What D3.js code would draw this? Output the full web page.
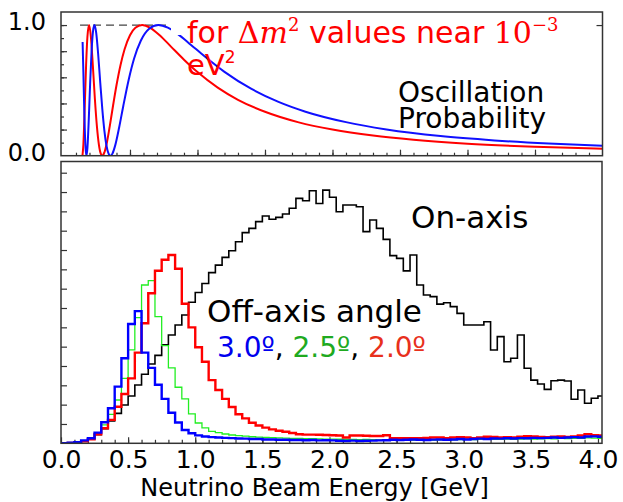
<!DOCTYPE html>
<html><head><meta charset="utf-8">
<script src="https://cdn.jsdelivr.net/npm/d3@7"></script>
<style>
html,body{margin:0;padding:0;background:#fff;}
svg{display:block;font-family:"DejaVu Sans",sans-serif;}
</style></head>
<body><svg id="c" width="623" height="502"></svg>
<script>
// ---------- DATA ----------
const binWidth = 0.05; // GeV
// flux histograms (arbitrary units, 1 unit = one y tick)
const onAxis = [0.0,0.02,0.05,0.12,0.25,0.45,0.75,1.15,1.55,1.98,2.45,3.02,3.57,4.1,4.55,5.1,5.6,6.12,
  6.64,7.3,7.8,8.27,8.83,9.22,9.62,9.96,10.43,10.9,11.12,11.47,11.76,11.59,11.69,11.86,12.16,12.67,12.55,
  13.07,12.41,13.1,12.73,11.98,12.33,12.33,12.24,10.95,11.55,11.12,10.55,9.71,9.57,8.92,9.74,8.19,7.67,7.59,
  7.2,7.27,7.07,6.72,6.12,6.12,6.12,6.29,4.83,5.52,4.22,4.4,5.6,3.88,3.27,3.07,2.79,3.24,3.27,3.22,2.28,2.76,
  2.07,2.33,2.45];
const off25 = [0.0,0.03,0.06,0.12,0.2,0.5,0.95,1.5,2.24,3.36,4.83,6.5,8.19,8.42,6.55,5.05,3.9,2.9,2.3,1.52,
  1.05,0.8,0.62,0.55,0.48,0.43,0.4,0.37,0.34,0.32,0.3,
  0.29,0.28,0.27,0.26,0.25,0.24,0.24,0.23,0.22,0.22,0.21,0.2,0.2,0.19,0.2,0.19,0.18,0.19,0.18,0.17,
  0.18,0.17,0.17,0.18,0.17,0.18,0.19,0.18,0.19,0.2,0.19,0.2,0.21,0.2,0.21,0.22,0.21,0.22,0.23,0.22,
  0.23,0.24,0.23,0.25,0.24,0.26,0.25,0.28,0.27,0.26];
const off20 = [0.0,0.02,0.05,0.1,0.21,0.47,0.78,1.21,1.89,2.55,3.36,4.69,6.21,7.76,8.93,9.5,9.74,9.03,7.22,
  6.0,4.97,4.22,3.27,2.76,2.3,1.88,1.5,1.29,1.06,0.92,0.81,0.72,0.65,0.6,0.53,0.47,
  0.45,0.45,0.44,0.43,0.42,0.4,0.3,0.4,0.4,0.39,0.38,0.38,0.42,
  0.27,0.26,0.27,0.26,0.27,0.28,0.3,0.3,0.27,0.3,0.32,0.3,0.26,0.3,0.34,0.33,0.3,0.32,0.3,0.34,0.37,0.35,
  0.33,0.32,0.34,0.35,0.33,0.36,0.4,0.47,0.42,0.4];
const off30 = [0.0,0.03,0.06,0.15,0.26,0.55,1.09,1.81,2.93,4.4,6.17,6.84,4.69,3.9,3.03,2.3,1.58,1.08,0.69,
  0.52,0.41,0.35,
  0.32,0.3,0.28,0.27,0.25,0.24,0.22,0.22,0.2,0.2,0.18,0.18,0.17,0.17,0.16,0.17,0.15,0.16,0.15,
  0.13,0.12,0.14,0.12,0.13,0.14,0.15,0.16,0.18,0.17,0.18,0.2,0.18,0.17,0.19,0.2,0.18,0.2,0.22,0.2,0.22,
  0.24,0.22,0.25,0.24,0.26,0.25,0.27,0.26,0.28,0.27,0.28,0.3,0.28,0.3,0.32,0.3,0.35,0.36,0.34];
// oscillation probability curves: [energy GeV, probability]
const probRedE = [0.148,0.155,0.165,0.175,0.185,0.197,0.21,0.225,0.24,0.255,0.27,0.285,0.295,0.31,0.33,0.35,
  0.375,0.4,0.43,0.46,0.5,0.54,0.59,0.65,0.72,0.8,0.9,1.0,1.15,1.3,1.5,1.75,2.0,2.3,2.6,3.0,3.5,4.0];
const probRedP = [0.0,0.09,0.382,0.696,0.914,1.0,0.914,0.688,0.434,0.224,0.082,0.012,0.0,0.023,0.107,0.225,
  0.386,0.539,0.695,0.815,0.922,0.979,1.0,0.979,0.922,0.839,0.735,0.64,0.521,0.428,0.336,0.255,0.2,0.154,
  0.122,0.092,0.0685,0.0527];
const probBlueE = [0.149,0.155,0.16,0.165,0.17,0.1775,0.185,0.195,0.205,0.215,0.2265,0.237,0.25,0.265,0.28,
  0.295,0.31,0.325,0.34,0.355,0.37,0.39,0.42,0.45,0.49,0.53,0.58,0.64,0.71,0.78,0.86,0.95,1.05,1.2,1.4,
  1.6,1.8,2.1,2.4,2.8,3.2,3.6,4.0];
const probBlueP = [0.87,0.626,0.403,0.21,0.075,0.0,0.063,0.286,0.558,0.79,0.956,1.0,0.939,0.767,0.556,
  0.356,0.194,0.082,0.019,0.0,0.016,0.077,0.218,0.379,0.58,0.742,0.88,0.97,1.0,0.98,0.927,0.85,0.763,
  0.642,0.511,0.412,0.337,0.257,0.201,0.15,0.117,0.093,0.0757];
const xTickLabels = ["0.0","0.5","1.0","1.5","2.0","2.5","3.0","3.5","4.0"];
const xTickValues = [0,0.5,1,1.5,2,2.5,3,3.5,4];

// ---------- LAYOUT ----------
const svg = d3.select("#c");
const FONT = "DejaVu Sans";
const BORDER = "#333";

// top panel
const T = {l:61, r:602.5, t:12, b:155.7};
const xT = d3.scaleLinear().domain([-0.011,4]).range([T.l, T.r]);
const yT = d3.scaleLinear().domain([0,1.1]).range([T.b, T.t]);
// bottom panel
const B = {l:61, r:602, t:161.5, b:443.3};
const xB = d3.scaleLinear().domain([0,4.03]).range([B.l, B.r]);
const yB = d3.scaleLinear().domain([0,14.58]).range([B.b, B.t]);

svg.append("defs").append("clipPath").attr("id","clipB")
  .append("rect").attr("x",B.l).attr("y",B.t).attr("width",B.r-B.l).attr("height",B.b-B.t);
svg.select("defs").append("clipPath").attr("id","clipT")
  .append("rect").attr("x",T.l).attr("y",T.t).attr("width",T.r-T.l).attr("height",T.b-T.t);

function styleAxis(g){
  g.select(".domain").remove();
  g.selectAll(".tick line").attr("stroke",BORDER).attr("stroke-width",1.2);
  g.selectAll("text").attr("font-family",FONT).attr("fill","#000");
}

// ---------- TOP PANEL ----------
const gT = svg.append("g");
gT.append("g").attr("transform",`translate(${T.l},0)`)
  .call(d3.axisLeft(yT).tickValues(d3.range(0.1,1.01,0.1)).tickSize(-3).tickFormat(""))
  .call(styleAxis);
gT.append("g").attr("transform",`translate(${T.l},0)`)
  .call(d3.axisLeft(yT).tickValues([0.2,0.4,0.6,0.8,1.0]).tickSize(-6).tickFormat(""))
  .call(styleAxis);
gT.append("g").attr("transform",`translate(${T.r},0)`)
  .call(d3.axisRight(yT).tickValues([1.0]).tickSize(-6).tickFormat(""))
  .call(styleAxis);
gT.append("g").attr("transform",`translate(0,${T.b})`)
  .call(d3.axisBottom(xT).tickValues(d3.range(0.1,3.96,0.1)).tickSize(-3).tickFormat(""))
  .call(styleAxis);
gT.append("g").attr("transform",`translate(0,${T.b})`)
  .call(d3.axisBottom(xT).tickValues([0.5,1,1.5,2,2.5,3,3.5]).tickSize(-6).tickFormat(""))
  .call(styleAxis);
const yLab = gT.append("g").attr("transform",`translate(${T.l},0)`)
  .call(d3.axisLeft(yT).tickValues([0,1]).tickSize(0).tickPadding(15).tickFormat(d3.format(".1f")));
yLab.select(".domain").remove();
yLab.selectAll("text").attr("font-family",FONT).attr("font-size",24).attr("dy","0.2em").attr("fill","#000");

gT.append("line").attr("x1",xT(0.13)).attr("x2",xT(0.785)).attr("y1",yT(1)).attr("y2",yT(1))
  .attr("stroke","#444").attr("stroke-width",1.2).attr("stroke-dasharray","8,5");

const lineT = d3.line().x(d=>xT(d[0])).y(d=>yT(d[1])).curve(d3.curveMonotoneX);
const gTc = gT.append("g").attr("clip-path","url(#clipT)");
gTc.append("path").datum(probRedE.map((e,i)=>[e,probRedP[i]])).attr("d",lineT)
  .attr("fill","none").attr("stroke","#ff0000").attr("stroke-width",2);
gTc.append("path").datum(probBlueE.map((e,i)=>[e,probBlueP[i]])).attr("d",lineT)
  .attr("fill","none").attr("stroke","#1010ff").attr("stroke-width",2);

gT.append("rect").attr("x",171).attr("y",14).attr("width",400).attr("height",21).attr("fill","#fff");
// two-line annotation in one text element
const ann = gT.append("text").attr("x",187).attr("y",43).attr("fill","#ff0000").attr("font-size",30).attr("font-family",FONT);
ann.append("tspan").text("for ");
ann.append("tspan").attr("font-family","DejaVu Serif").text("Δ");
ann.append("tspan").attr("font-family","DejaVu Serif").attr("font-style","italic").text("m");
ann.append("tspan").attr("font-family","DejaVu Serif").attr("font-size",18).attr("dy",-12).text("2");
ann.append("tspan").attr("dy",12).text(" values near ");
ann.append("tspan").attr("font-family","DejaVu Serif").text("10");
ann.append("tspan").attr("font-family","DejaVu Serif").attr("font-size",18).attr("dy",-12).text("−3");
ann.append("tspan").attr("x",187).attr("y",75).attr("font-size",29).text("eV");
ann.append("tspan").attr("font-size",17).attr("dy",-12).text("2");

const osc = gT.append("text").attr("font-size",28).attr("font-family",FONT);
osc.append("tspan").attr("x",398).attr("y",102).text("Oscillation");
osc.append("tspan").attr("x",398).attr("y",128).text("Probability");

gT.append("rect").attr("x",T.l).attr("y",T.t).attr("width",T.r-T.l).attr("height",T.b-T.t)
  .attr("fill","none").attr("stroke",BORDER).attr("stroke-width",1.5);

// ---------- BOTTOM PANEL ----------
const gB = svg.append("g");
gB.append("rect").attr("x",B.l).attr("y",B.t).attr("width",B.r-B.l).attr("height",B.b-B.t).attr("fill","#fff");
gB.append("g").attr("transform",`translate(${B.l},0)`)
  .call(d3.axisLeft(yB).tickValues(d3.range(1,15)).tickSize(-6).tickFormat(""))
  .call(styleAxis);
gB.append("g").attr("transform",`translate(0,${B.b})`)
  .call(d3.axisBottom(xB).tickValues(d3.range(0.1,4.0,0.1)).tickSize(-3.5).tickFormat(""))
  .call(styleAxis);
const xAx = gB.append("g").attr("transform",`translate(0,${B.b})`)
  .call(d3.axisBottom(xB).tickValues(xTickValues).tickSize(-6).tickPadding(6.5)
    .tickFormat((d,i)=>xTickLabels[i]))
  .call(styleAxis);
xAx.selectAll("text").attr("font-size",25);

const lineB = d3.line().x(d=>xB(d[0])).y(d=>yB(d[1])).curve(d3.curveStepAfter);
function histPts(vals){
  const p=[[0,0]];
  vals.forEach((v,i)=>p.push([i*binWidth,v]));
  p.push([vals.length*binWidth, vals[vals.length-1]]);
  p.push([vals.length*binWidth, 0]);
  return p;
}
const gBc = gB.append("g").attr("clip-path","url(#clipB)");
[[onAxis,"#000",1.6],[off25,"#22ee22",1.3],[off20,"#ff0000",2.4],[off30,"#0000ff",2.4]].forEach(([v,c,w])=>{
  gBc.append("path").datum(histPts(v)).attr("d",lineB).attr("fill","none")
    .attr("stroke",c).attr("stroke-width",w).attr("stroke-linejoin","miter");
});

gB.append("text").attr("x",411).attr("y",228).attr("font-size",31).attr("font-family",FONT).text("On-axis");
const offTxt = gB.append("text").attr("font-family",FONT);
offTxt.append("tspan").attr("x",207).attr("y",322).attr("font-size",31).text("Off-axis angle");
const ang = offTxt.append("tspan").attr("x",217).attr("y",357).attr("font-size",28);
offTxt.append("tspan").attr("x",217).attr("y",357).attr("font-size",28).attr("fill","#0000ee").text("3.0º");
offTxt.append("tspan").attr("font-size",28).attr("fill","#000").text(", ");
offTxt.append("tspan").attr("font-size",28).attr("fill","#1faa1f").text("2.5º");
offTxt.append("tspan").attr("font-size",28).attr("fill","#000").text(", ");
offTxt.append("tspan").attr("font-size",28).attr("fill","#e8301c").text("2.0º");

gB.append("rect").attr("x",B.l).attr("y",B.t).attr("width",B.r-B.l).attr("height",B.b-B.t)
  .attr("fill","none").attr("stroke",BORDER).attr("stroke-width",1.5);

svg.append("text").attr("x",(B.l+B.r)/2-17).attr("y",496).attr("text-anchor","middle")
  .attr("font-size",24).attr("font-family",FONT).text("Neutrino Beam Energy [GeV]");
</script></body></html>
